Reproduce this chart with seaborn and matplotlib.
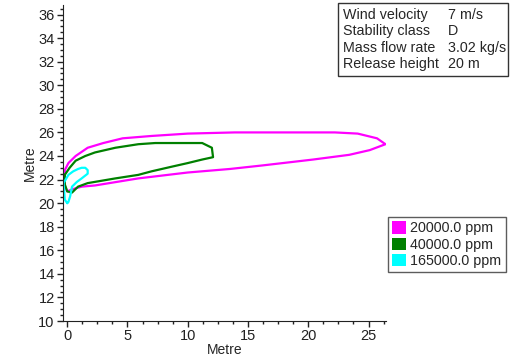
import seaborn as sns
import matplotlib.pyplot as plt
import matplotlib.patches as mpatches
from matplotlib.ticker import MultipleLocator
import pandas as pd

# contour outlines (metre)
x_20000 = [-0.2, 0.1, 0.7, 1.7, 3.0, 4.6, 7.0, 10.0, 13.9, 18.0, 22.2, 24.1, 25.7, 26.4,
           25.1, 23.4, 20.4, 16.2, 13.5, 10.0, 5.9, 2.3, 1.2, 0.5, 0.0, -0.2, -0.2]
y_20000 = [22.8, 23.4, 24.0, 24.7, 25.1, 25.5, 25.7, 25.9, 26.0, 26.0, 26.0, 25.9, 25.5, 25.0,
           24.5, 24.1, 23.7, 23.2, 22.9, 22.6, 22.1, 21.5, 21.4, 21.2, 21.0, 21.5, 22.8]

x_40000 = [-0.2, 0.2, 0.7, 1.5, 2.3, 4.0, 5.9, 7.3, 9.5, 11.2, 12.0, 12.1, 11.2, 10.0,
           8.7, 7.0, 5.9, 4.0, 1.7, 0.9, 0.4, 0.0, -0.2, -0.2]
y_40000 = [22.4, 23.0, 23.6, 24.0, 24.3, 24.7, 25.0, 25.1, 25.1, 25.1, 24.7, 23.9, 23.7, 23.4,
           23.1, 22.7, 22.4, 22.1, 21.7, 21.4, 20.9, 21.0, 21.6, 22.4]

x_165000 = [0.0, -0.2, -0.3, 0.1, 0.5, 0.9, 1.2, 1.5, 1.7, 1.7, 1.2, 0.8, 0.4, 0.25, 0.1, 0.0]
y_165000 = [20.0, 20.3, 21.7, 22.4, 22.7, 22.9, 23.0, 23.0, 22.8, 22.5, 22.1, 21.8, 21.4, 20.6, 20.1, 20.0]

levels = ["20000.0 ppm", "40000.0 ppm", "165000.0 ppm"]
colors = ["#ff00ff", "#008000", "#00ffff"]

info_labels = ["Wind velocity", "Stability class", "Mass flow rate", "Release height"]
info_values = ["7 m/s", "D", "3.02 kg/s", "20 m"]

frames = []
for lev, xs, ys in zip(levels, [x_20000, x_40000, x_165000], [y_20000, y_40000, y_165000]):
    frames.append(pd.DataFrame({"x": xs, "y": ys, "level": lev, "i": range(len(xs))}))
df = pd.concat(frames, ignore_index=True)

sns.set_style("ticks")
plt.rcParams["font.family"] = ["Liberation Sans", "DejaVu Sans"]

fig = plt.figure(figsize=(5.12, 3.64), dpi=100)
ax = fig.add_axes([0.123, 0.118, 0.631, 0.868])

sns.lineplot(data=df, x="x", y="y", hue="level", palette=colors, sort=False,
             estimator=None, units="level", linewidth=1.6, legend=False, ax=ax)

ax.set_xlim(-0.35, 26.45)
ax.set_ylim(10, 36.8)
ax.xaxis.set_major_locator(MultipleLocator(5))
ax.xaxis.set_minor_locator(MultipleLocator(1.25))
ax.yaxis.set_major_locator(MultipleLocator(2))
ax.yaxis.set_minor_locator(MultipleLocator(0.5))
ax.tick_params(which="major", length=4, width=1, labelsize=10.5, colors="#222222", pad=2)
ax.tick_params(which="minor", length=2.5, width=1, colors="#222222")
for s in ["top", "right"]:
    ax.spines[s].set_visible(False)
for s in ["left", "bottom"]:
    ax.spines[s].set_color("#222222")
ax.set_xlabel("Metre", fontsize=10, labelpad=0)
ax.set_ylabel("Metre", fontsize=10, labelpad=1)

# info box
fig.patches.append(mpatches.Rectangle((338 / 512, 1 - 76 / 364), 170 / 512, 73 / 364,
                                      transform=fig.transFigure, fill=False,
                                      edgecolor="#333333", linewidth=1))
for k, (lab, val) in enumerate(zip(info_labels, info_values)):
    yy = 1 - (15 + 16.3 * k) / 364
    fig.text(343 / 512, yy, lab, fontsize=10.3, va="center", ha="left")
    fig.text(448 / 512, yy, val, fontsize=10.3, va="center", ha="left")

# legend
handles = [mpatches.Patch(facecolor=c, edgecolor="none", label=l) for c, l in zip(colors, levels)]
fig.legend(handles=handles, loc="upper left", bbox_to_anchor=(388 / 512, 1 - 217 / 364),
           fontsize=10.3, frameon=True, fancybox=False, edgecolor="#333333",
           handlelength=0.95, handleheight=0.95, handletextpad=0.3, borderpad=0.3,
           labelspacing=0.15, borderaxespad=0)

fig.savefig("out.png", dpi=100)
